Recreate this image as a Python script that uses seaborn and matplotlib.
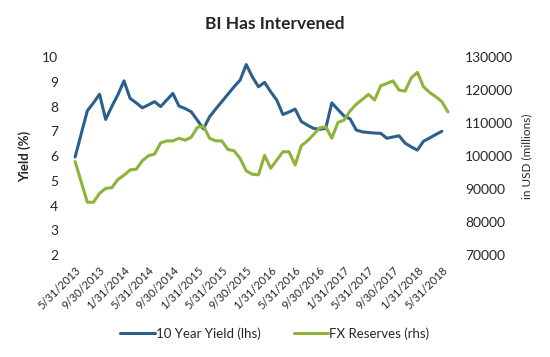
import pandas as pd
import numpy as np
import seaborn as sns
import matplotlib.pyplot as plt

# month-end dates, May 2013 .. Jun 2018
dates = pd.date_range("2013-05-31", periods=62, freq="ME")

# 10 year yield (%), no reading for the last month
yield_10y = [5.96, 6.9, 7.83, 8.15, 8.5, 7.48, 8.0, 8.48, 9.04, 8.33,
             8.15, 7.95, 8.07, 8.2, 8.0, 8.27, 8.53, 8.02, 7.92, 7.79,
             7.45, 7.1, 7.59, 7.9, 8.2, 8.5, 8.8, 9.07, 9.7, 9.2,
             8.8, 8.98, 8.6, 8.26, 7.68, 7.78, 7.9, 7.4, 7.25, 7.12,
             7.08, 7.12, 8.15, 7.88, 7.62, 7.5, 7.05, 6.98, 6.95, 6.93,
             6.92, 6.72, 6.77, 6.82, 6.52, 6.37, 6.24, 6.6, 6.73, 6.87,
             7.0, np.nan]

# FX reserves, USD millions
fx_reserves = [98300, 92200, 86000, 86000, 88700, 90200, 90400, 92900, 94200, 95800,
               96000, 98600, 100100, 100600, 104000, 104600, 104600, 105400, 104800, 105700,
               108700, 109100, 105400, 104600, 104600, 102000, 101600, 99300, 95500, 94500,
               94300, 100200, 96300, 98800, 101300, 101300, 97300, 103100, 104600, 106500,
               108500, 108900, 105400, 110200, 110900, 113700, 115700, 117200, 118700, 117000,
               121300, 122000, 122800, 120000, 119700, 123700, 125400, 121000, 119300, 118000,
               116500, 113400]

df = pd.DataFrame({"month": np.arange(len(dates)), "yield": yield_10y, "fx": fx_reserves})
tick_labels = [f"{d.month}/{d.day}/{d.year}" for d in dates[:61:4]]

sns.set_style("white")
plt.rcParams["font.family"] = ["Lato", "DejaVu Sans"]

blue = "#2D5F8B"
green = "#8DB33A"

fig = plt.figure(figsize=(5.5, 3.57), dpi=100)
ax = fig.add_axes([0.131, 0.2857, 0.689, 0.5543])
ax2 = ax.twinx()

sns.lineplot(data=df, x="month", y="yield", ax=ax, color=blue, linewidth=2.2,
             label="10 Year Yield (lhs)", legend=False)
sns.lineplot(data=df, x="month", y="fx", ax=ax2, color=green, linewidth=2.2,
             label="FX Reserves (rhs)", legend=False)

ax.set_xlim(-0.5, 61.5)
ax.set_ylim(2, 10)
ax2.set_ylim(70000, 130000)
ax.set_yticks(range(2, 11))
ax2.set_yticks(range(70000, 130001, 10000))
ax.set_xticks(df["month"][:61:4])
ax.set_xticklabels(tick_labels, rotation=45, ha="right", rotation_mode="anchor", fontsize=8)

ax.tick_params(axis="y", length=0, pad=10, labelsize=10)
ax2.tick_params(axis="y", length=0, pad=10, labelsize=10)
ax.tick_params(axis="x", length=0, pad=7)

for a in (ax, ax2):
    for s in a.spines.values():
        s.set_visible(False)

ax.set_xlabel("")
ax.set_ylabel("Yield (%)", fontsize=9.5, fontweight="bold", labelpad=8)
ax2.set_ylabel("in USD (millions)", fontsize=8.5, labelpad=6)

fig.suptitle("BI Has Intervened", x=0.5, y=0.955, fontsize=12.5, fontweight="bold")

h1, l1 = ax.get_legend_handles_labels()
h2, l2 = ax2.get_legend_handles_labels()
fig.legend(h1 + h2, l1 + l2, loc="center", bbox_to_anchor=(0.5, 0.065), ncol=2,
           frameon=False, fontsize=9.5, handlelength=2.6, columnspacing=2.5, handletextpad=0.1)

fig.savefig("out.png", dpi=100)
